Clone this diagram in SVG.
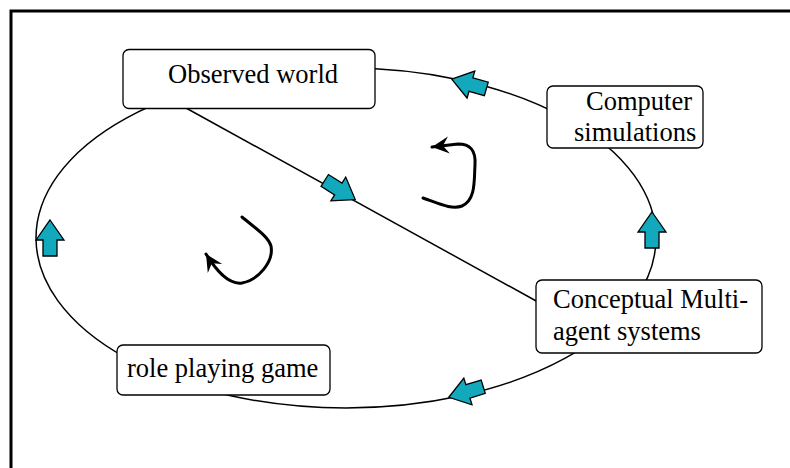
<svg xmlns="http://www.w3.org/2000/svg" width="790" height="468" viewBox="0 0 790 468">
<style>
.box{fill:#fff;stroke:#000;stroke-width:1.3}
.t{font-family:"Liberation Serif","Times New Roman",serif;font-size:26.5px;fill:#000}
.ln{fill:none;stroke:#000;stroke-width:1.5}
.curl{fill:none;stroke:#000;stroke-width:3;stroke-linecap:round}
.blk{fill:#11a9bb;stroke:#000;stroke-width:1.3;stroke-linejoin:miter}
</style>
<defs>
<path id="barrow" d="M0,-18 L14,2 L7,2 L7,18 L-7,18 L-7,2 L-14,2 Z"/>
<marker id="ah" markerUnits="userSpaceOnUse" viewBox="-18 -10 20 20" refX="0" refY="0" markerWidth="20" markerHeight="20" orient="auto">
<path d="M0,0 L-17,-8.5 L-11,0 L-17,8.5 Z" fill="#000"/>
</marker>
</defs>
<rect width="790" height="468" fill="#fff"/>
<path d="M11,470 V11 H792" fill="none" stroke="#000" stroke-width="3"/>
<g id="connectors">
<ellipse class="ln" cx="346" cy="238" rx="310" ry="170"/>
<line class="ln" x1="186" y1="108" x2="538" y2="302"/>
<use href="#barrow" class="blk" transform="translate(469,84) rotate(-74)"/>
<use href="#barrow" class="blk" transform="translate(340,190) rotate(122)"/>
<use href="#barrow" class="blk" transform="translate(652,230)"/>
<use href="#barrow" class="blk" transform="translate(50,238)"/>
<use href="#barrow" class="blk" transform="translate(466,392) rotate(-107)"/>
<path class="curl" d="M423,198 C440,204 452,210 462,206 C476,200 474,180 475,165 C476,150 470,144 458,144 L432,147" marker-end="url(#ah)"/>
<path class="curl" d="M242,217 C255,228 268,236 271,246 C274,262 258,280 242,283 C228,285 216,270 206,254" marker-end="url(#ah)"/>
</g>
<g id="observed-world">
<rect class="box" x="123" y="49.5" width="252" height="59" rx="6"/>
<text class="t" x="168" y="83">Observed world</text>
</g>
<g id="computer-simulations">
<rect class="box" x="547" y="86" width="156" height="62" rx="6"/>
<text class="t" x="586" y="110">Computer</text>
<text class="t" x="574" y="141">simulations</text>
</g>
<g id="conceptual-mas">
<rect class="box" x="536" y="280" width="226" height="73" rx="6"/>
<text class="t" x="553" y="308">Conceptual Multi-</text>
<text class="t" x="553" y="340">agent systems</text>
</g>
<g id="role-playing-game">
<rect class="box" x="117" y="345" width="213" height="50" rx="6"/>
<text class="t" x="127" y="377">role playing game</text>
</g>
</svg>
